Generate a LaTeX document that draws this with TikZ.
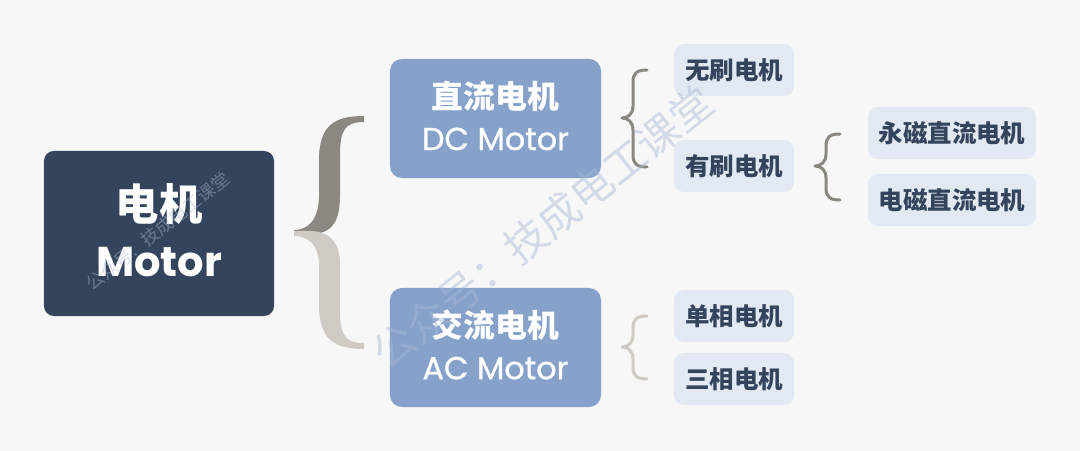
\documentclass[tikz,border=0pt]{standalone}
\usepackage{fontspec}
\setmainfont{Poppins}
\newfontfamily\cjk{Noto Sans CJK SC}
\newfontfamily\latinmed[FakeBold=0.8]{Poppins}
\definecolor{pagebg}{HTML}{F7F7F7}
\definecolor{motordark}{HTML}{34445C}
\definecolor{motorblue}{HTML}{86A2CB}
\definecolor{motorlight}{HTML}{E2E9F2}
\definecolor{bracedark}{HTML}{8A8880}
\definecolor{bracelight}{HTML}{CFCBC4}
\definecolor{markblue}{HTML}{A8B8D4}
\tikzset{
  rootbox/.style={fill=motordark, text=white, rounded corners=0.25cm, minimum width=5.75cm, minimum height=4.125cm, align=center, inner sep=0pt, text depth=0.16cm},
  typebox/.style={fill=motorblue, text=white, rounded corners=0.3cm, minimum width=5.275cm, minimum height=2.975cm, align=center, inner sep=0pt, text depth=0.15cm},
  leafbox/.style={fill=motorlight, text=motordark, rounded corners=0.25cm, minimum height=1.3cm, inner sep=0pt, font=\cjk\bfseries\fontsize{17.4}{20}\selectfont},
  thinbrace/.style={line width=0.075cm, line cap=round, line join=round},
  markcn/.style={text=markblue, text opacity=0.45, rotate=38.5, inner sep=0pt}
}
\begin{document}
\begin{tikzpicture}[x=0.025cm,y=-0.025cm]
  \useasboundingbox (0,0) rectangle (1080,451);
  \fill[pagebg] (0,0) rectangle (1080,451);

  %big brace
  \fill[bracedark] (364,116) .. controls (335,116) and (319,125) .. (319,160) -- (319,195)
    .. controls (319,220) and (308,230) .. (294,230) -- (294,233) -- (320,233)
    .. controls (333,230) and (340,220) .. (340,195) -- (340,155)
    .. controls (340,130) and (345,122) .. (364,122) -- cycle;
  \fill[bracelight] (364,349) .. controls (335,349) and (319,340) .. (319,305) -- (319,265)
    .. controls (319,245) and (308,236) .. (294,236) -- (294,231) -- (312,231)
    .. controls (333,233) and (340,245) .. (340,265) -- (340,310)
    .. controls (340,335) and (345,343) .. (364,343) -- cycle;

  %small braces
  \foreach \tipx/\tipy/\topy/\boty/\col in {622/118/70/167/bracedark,815/166/134/200/bracedark,622/347/316/379/bracelight}{
    \draw[thinbrace, \col] (\tipx+25,\topy) .. controls (\tipx+15,\topy) and (\tipx+11,\topy+3) .. (\tipx+11,\topy+12)
      -- (\tipx+11,\tipy-12) .. controls (\tipx+11,\tipy-4) and (\tipx+6,\tipy) .. (\tipx,\tipy)
      .. controls (\tipx+6,\tipy) and (\tipx+11,\tipy+4) .. (\tipx+11,\tipy+12)
      -- (\tipx+11,\boty-12) .. controls (\tipx+11,\boty-3) and (\tipx+15,\boty) .. (\tipx+25,\boty);
  }

  \node[rootbox] (motor) at (159,233.5) {{\cjk\bfseries\fontsize{30.8}{32}\selectfont 电机}\\[0.53cm]{\bfseries\fontsize{29.6}{32}\selectfont Motor}};
  \node[typebox] (dc) at (495.5,118.5) {{\cjk\bfseries\fontsize{22.6}{27}\selectfont 直流电机}\\[0.375cm]{\latinmed\fontsize{22.6}{27}\selectfont DC Motor}};
  \node[typebox] (ac) at (495.5,347.5) {{\cjk\bfseries\fontsize{22.6}{27}\selectfont 交流电机}\\[0.375cm]{\latinmed\fontsize{22.6}{27}\selectfont AC Motor}};

  \foreach \name/\y/\txt in {wushua/70/无刷电机,youshua/166/有刷电机,danxiang/316/单相电机,sanxiang/379/三相电机}
    \node[leafbox, minimum width=3cm] (\name) at (734,\y) {\txt};
  \node[leafbox, minimum width=4.2cm] (yongci) at (952,133) {永磁直流电机};
  \node[leafbox, minimum width=4.2cm] (dianci) at (952,200) {电磁直流电机};

  %watermarks
  \node[markcn, font=\cjk\fontsize{30}{32}\selectfont] (markbig) at (542.5,227.5) {公众号：技成电工课堂};
  \node[markcn, font=\cjk\fontsize{12.6}{14}\selectfont] (marksmall) at (157.5,231) {公众号：技成电工课堂};
\end{tikzpicture}
\end{document}
